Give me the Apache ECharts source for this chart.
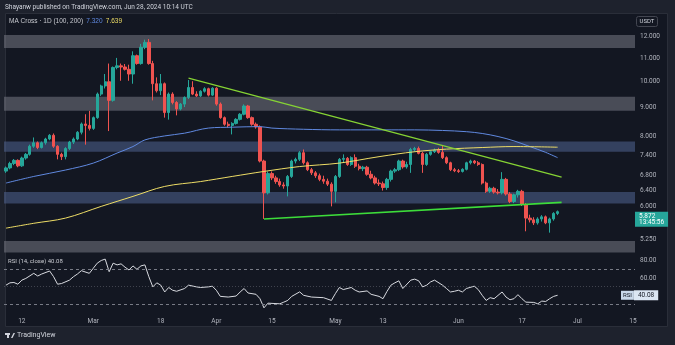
<!DOCTYPE html>
<html><head><meta charset="utf-8">
<script src="https://cdn.jsdelivr.net/npm/echarts@6/dist/echarts.min.js"></script>
<style>html,body{margin:0;padding:0;background:#1e222d;}#c{width:675px;height:345px;}</style>
</head><body><div id="c"></div>
<script>
// ---- categories (daily, DOT/USDT 1D) ----
const firstDay = '2024-02-08';
const dayCount = 159; // Feb 8 .. Jul 15 (axis span)
const tickDates = ['2024-02-12','2024-03-01','2024-03-18','2024-04-01','2024-04-15','2024-05-01','2024-05-13','2024-06-01','2024-06-17','2024-07-01','2024-07-15'];
const tickLabels = ['12','Mar','18','Apr','15','May','13','Jun','17','Jul','15'];

// ---- candles ----
const candleOpen = [6.93,7.02,7.15,7.24,7.08,7.31,7.42,7.67,7.78,7.63,
 7.78,7.90,8.02,7.67,7.42,7.35,7.60,7.80,7.90,8.12,
 8.40,8.35,8.25,8.62,9.49,9.81,9.98,9.25,10.58,10.65,
 10.60,10.50,10.30,11.10,10.75,11.49,11.72,10.75,9.90,9.62,
 9.90,8.80,9.49,9.17,8.93,9.11,9.36,9.75,9.49,9.42,
 9.60,9.70,9.45,9.72,9.11,8.62,8.39,8.35,8.42,8.56,
 8.74,9.04,8.62,8.39,8.30,7.22,6.34,6.86,6.74,6.64,
 6.55,6.52,6.78,7.22,7.27,7.47,7.17,6.97,6.88,6.80,
 6.70,6.65,6.57,6.38,6.78,7.27,7.30,7.12,7.32,7.07,
 7.00,7.04,6.84,6.74,6.60,6.58,6.48,6.70,6.93,6.97,
 7.22,7.05,7.12,7.57,7.60,7.45,7.12,7.42,7.50,7.55,
 7.48,7.32,7.17,6.97,6.94,6.92,6.98,7.17,7.22,7.17,
 7.12,6.60,6.38,6.46,6.36,6.34,6.70,6.31,6.12,6.29,
 6.38,6.05,5.72,5.68,5.61,5.70,5.75,5.61,5.70,5.83];
const candleClose = [7.02,7.15,7.24,7.08,7.31,7.42,7.67,7.78,7.63,7.78,
 7.90,8.02,7.67,7.42,7.35,7.60,7.80,7.90,8.12,8.40,
 8.35,8.25,8.62,9.49,9.81,9.98,9.25,10.58,10.65,10.60,
 10.50,10.30,11.10,10.75,11.49,11.72,10.75,9.90,9.62,9.90,
 8.80,9.49,9.17,8.93,9.11,9.36,9.75,9.49,9.42,9.60,
 9.70,9.45,9.72,9.11,8.62,8.39,8.35,8.42,8.56,8.74,
 9.04,8.62,8.39,8.30,7.22,6.34,6.86,6.74,6.64,6.55,
 6.52,6.78,7.22,7.27,7.47,7.17,6.97,6.88,6.80,6.70,
 6.65,6.57,6.38,6.78,7.27,7.30,7.12,7.32,7.07,7.00,
 7.04,6.84,6.74,6.60,6.58,6.48,6.70,6.93,6.97,7.22,
 7.05,7.12,7.57,7.60,7.45,7.12,7.42,7.50,7.55,7.48,
 7.32,7.17,6.97,6.94,6.92,6.98,7.17,7.22,7.17,7.12,
 6.60,6.38,6.46,6.36,6.34,6.70,6.31,6.12,6.29,6.38,
 6.05,5.72,5.68,5.61,5.70,5.75,5.61,5.70,5.83,5.872];
const candleLow = [6.88,6.98,7.10,7.04,7.05,7.26,7.38,7.62,7.58,7.60,
 7.72,7.86,7.62,7.27,7.25,7.27,7.55,7.74,7.86,8.05,
 7.72,8.18,8.20,8.58,9.42,9.71,8.16,9.20,10.50,10.02,
 10.45,10.02,9.90,10.70,10.70,11.40,10.70,9.25,9.55,9.45,
 8.62,8.55,9.10,8.70,8.88,9.00,9.30,9.45,9.38,9.38,
 9.55,9.40,9.42,9.05,8.58,8.34,8.28,8.05,8.38,8.52,
 8.70,8.58,8.34,8.24,7.18,5.70,6.30,6.68,6.58,6.50,
 6.45,6.25,6.74,7.15,7.22,7.12,6.93,6.82,6.74,6.65,
 6.58,6.52,6.00,6.10,6.74,7.18,7.08,7.08,7.02,6.95,
 6.93,6.80,6.70,6.56,6.52,6.40,6.42,6.64,6.88,6.93,
 7.00,7.00,6.88,7.50,7.42,6.88,7.08,7.38,7.46,7.44,
 7.28,7.13,6.93,6.90,6.88,6.89,6.95,7.12,7.13,7.08,
 6.56,6.34,6.34,6.32,6.30,6.30,6.27,6.08,6.08,6.22,
 6.01,5.42,5.62,5.56,5.57,5.64,5.58,5.39,5.66,5.79];
const candleHigh = [7.06,7.20,7.28,7.27,7.35,7.46,7.72,7.95,7.82,7.82,
 7.94,8.06,8.08,7.70,7.47,7.64,7.84,7.95,8.16,8.45,
 8.74,8.86,8.66,9.55,9.86,10.30,10.75,10.62,11.00,10.75,
 10.73,10.70,11.30,11.15,11.65,11.85,11.88,10.87,10.16,10.30,
 9.95,9.55,9.56,9.22,9.15,9.40,10.05,10.00,9.60,9.64,
 9.76,9.74,9.76,9.76,9.17,8.66,8.48,8.46,8.60,8.78,
 9.10,9.08,8.66,8.45,8.35,7.26,6.92,6.92,6.80,6.72,
 6.62,6.82,7.26,7.32,7.52,7.57,7.21,7.02,6.93,6.86,
 6.80,6.72,6.62,6.82,7.31,7.42,7.34,7.36,7.42,7.14,
 7.08,7.08,6.94,6.80,6.70,6.64,6.74,6.97,7.02,7.26,
 7.26,7.20,7.62,7.65,7.66,7.50,7.46,7.55,7.60,7.62,
 7.70,7.36,7.20,7.02,6.99,7.01,7.20,7.26,7.25,7.22,
 7.15,6.64,6.50,6.50,6.44,6.90,6.74,6.36,6.32,6.42,
 6.42,6.08,5.80,5.74,5.74,5.79,5.78,5.73,5.86,5.90];

// ---- moving averages (read at sample days) ----
const ma100Idx = [0,7,15,22,28,32,35,40,45,51,57,64,67,75,84,95,103,110,116,120,124,128,132,136,139];
const ma100Val = [6.60,6.78,6.96,7.16,7.46,7.66,7.87,8.00,8.09,8.26,8.29,8.31,8.26,8.22,8.20,8.20,8.20,8.18,8.14,8.08,7.98,7.84,7.66,7.48,7.32];
const ma200Idx = [0,7,15,24,32,40,49,57,65,74,84,94,103,111,120,128,139];
const ma200Val = [5.49,5.60,5.72,6.00,6.25,6.51,6.64,6.78,6.92,7.06,7.16,7.35,7.50,7.58,7.63,7.66,7.64];

// ---- trend lines ----
const resistIdx = [46,140];  const resistVal = [10.13,6.76];
const supportIdx = [65,140]; const supportVal = [5.70,6.10];

// ---- zones (price ranges) ----
const zoneLow  = [11.46, 8.87, 7.50, 6.07, 4.97];
const zoneHigh = [12.08, 9.39, 7.82, 6.36, 5.21];
const zoneKind = ['grey','grey','blue','blue','grey'];

// ---- price scale ticks ----
const priceTicks = [12, 11, 10, 9, 8, 7.4, 6.8, 6.4, 6.0, 5.6, 5.25];
const lastPrice = 5.872;
const countdown = '13:45:56';
const ma100Last = '7.320', ma200Last = '7.639';

// ---- RSI ----
const rsiIdx = [0,1,2,3,4,5,7,8,9,11,12,13,14,16,17,18,19,21,22,23,24,25,26,27,28,29,30,31,32,33,34,35,36,37,38,39,40,41,42,43,45,46,48,49,51,52,53,54,56,58,59,60,61,63,64,65,66,69,70,71,72,74,75,77,80,82,83,84,85,87,88,89,91,92,94,95,96,97,98,99,100,102,103,104,105,106,107,108,110,111,112,113,114,115,116,118,119,120,121,122,123,125,126,127,128,129,130,131,133,134,135,136,137,138,139];
const rsiVal = [51.8,54.5,54.9,52.9,57.6,59.6,65.5,62.4,64.7,68.2,61.6,52.9,53.7,57.6,61.6,64.7,68.6,65.5,71.4,77.3,80.4,82.0,67.4,77.3,75.3,76.5,72.6,69.4,74.1,70.2,74.1,75.3,61.6,49.8,54.5,51.8,43.9,49.1,45.9,44.7,47.9,51.8,49.8,49.1,49.8,50.6,45.9,38.8,38.0,39.2,43.9,47.9,42.7,41.2,36.1,25.5,30.9,30.2,32.1,34.1,38.8,44.0,40.0,38.0,37.3,34.1,42.0,49.1,46.7,49.1,45.9,43.9,45.1,41.2,38.8,36.1,44.5,51.8,54.5,56.8,47.9,57.6,58.8,56.8,49.8,51.8,55.6,57.6,51.8,47.9,43.9,44.7,45.9,43.9,47.9,50.6,46.7,40.0,34.1,37.3,36.1,43.9,38.0,34.9,36.1,40.8,36.1,32.1,31.8,30.2,33.3,32.9,36.1,38.8,40.08];
const rsiLevels = [70, 50, 30];
const rsiTicks = [80, 60];
const rsiLast = '40.08';

// ================= build =================
const categories = [];
const t0 = Date.parse(firstDay + 'T00:00:00Z');
for (let i = 0; i < dayCount; i++) categories.push(new Date(t0 + i * 86400000).toISOString().slice(0, 10));
const candles = candleOpen.map((o, i) => [o, candleClose[i], candleLow[i], candleHigh[i]]);
const pairs = (ix, v) => ix.map((x, i) => [x, v[i]]);
const FONT = 'Roboto';
const zoneColor = { grey: 'rgba(118,121,132,0.55)', blue: 'rgba(80,100,146,0.55)' };
const HIDDEN_LINE = { color: 'rgba(0,0,0,0)', width: 0 };

const chart = echarts.init(document.getElementById('c'), null, { renderer: 'canvas' });
const option = {
  animation: false,
  backgroundColor: '#1e222d',
  textStyle: { fontFamily: FONT },
  grid: [
    { left: 4, top: 14, width: 631, height: 241 },
    { left: 4, top: 256, width: 631, height: 54 }
  ],
  xAxis: [
    { type: 'category', gridIndex: 0, data: categories, boundaryGap: true,
      axisLine: { show: false }, axisTick: { show: false }, axisLabel: { show: false }, splitLine: { show: false } },
    { type: 'category', gridIndex: 1, data: categories, boundaryGap: true,
      axisLine: { show: false }, axisTick: { show: false }, splitLine: { show: false },
      axisLabel: { color: '#b2b5be', fontSize: 6.5, margin: 8, fontFamily: FONT,
        interval: (i, v) => tickDates.indexOf(v) >= 0,
        formatter: v => tickLabels[tickDates.indexOf(v)] } }
  ],
  yAxis: [
    { type: 'log', logBase: 10, gridIndex: 0, min: 4.92, max: 13.16,
      axisLine: { show: false }, axisTick: { show: false }, axisLabel: { show: false }, splitLine: { show: false } },
    { type: 'value', gridIndex: 1, min: 23, max: 85.6,
      axisLine: { show: false }, axisTick: { show: false }, axisLabel: { show: false }, splitLine: { show: false } }
  ],
  series: [
    { type: 'line', name: 'zones', xAxisIndex: 0, yAxisIndex: 0, data: [[0, 7]], symbol: 'none', silent: true, z: 1,
      lineStyle: HIDDEN_LINE,
      markArea: { silent: true, label: { show: false },
        data: zoneLow.map((lo, i) => [{ yAxis: lo, itemStyle: { color: zoneColor[zoneKind[i]] } }, { yAxis: zoneHigh[i] }]) } },
    { type: 'candlestick', name: 'DOTUSDT', xAxisIndex: 0, yAxisIndex: 0, data: candles, z: 3, barWidth: '72%',
      itemStyle: { color: '#26a69a', color0: '#ef5350', borderColor: '#26a69a', borderColor0: '#ef5350', borderWidth: 1 } },
    { type: 'line', name: 'MA100', xAxisIndex: 0, yAxisIndex: 0, data: pairs(ma100Idx, ma100Val), smooth: 0.35,
      symbol: 'none', z: 4, lineStyle: { color: '#6089e0', width: 1 } },
    { type: 'line', name: 'MA200', xAxisIndex: 0, yAxisIndex: 0, data: pairs(ma200Idx, ma200Val), smooth: 0.35,
      symbol: 'none', z: 4, lineStyle: { color: '#eedd66', width: 1 } },
    { type: 'line', name: 'resistance', xAxisIndex: 0, yAxisIndex: 0, data: pairs(resistIdx, resistVal),
      symbol: 'none', z: 5, lineStyle: { color: '#86d434', width: 1.2 } },
    { type: 'line', name: 'support', xAxisIndex: 0, yAxisIndex: 0, data: pairs(supportIdx, supportVal),
      symbol: 'none', z: 5, lineStyle: { color: '#3ddc3a', width: 1.6 } },
    { type: 'line', name: 'priceScale', xAxisIndex: 0, yAxisIndex: 0, data: [[0, 7]], symbol: 'none', silent: true, z: 6,
      lineStyle: HIDDEN_LINE, clip: false,
      markLine: { silent: true, symbol: ['none', 'none'], lineStyle: HIDDEN_LINE,
        label: { show: true, position: 'end', distance: 5, color: '#b2b5be', fontSize: 6.5, fontFamily: FONT, opacity: 1,
          formatter: p => Number(p.value).toFixed(3) },
        data: priceTicks.map(v => ({ yAxis: v })) } },
    { type: 'line', name: 'lastPrice', xAxisIndex: 0, yAxisIndex: 0, data: [[0, 7]], symbol: 'none', silent: true, z: 10,
      lineStyle: HIDDEN_LINE, clip: false,
      markLine: { silent: true, symbol: ['none', 'none'], lineStyle: HIDDEN_LINE,
        label: { show: true, position: 'end', distance: 0, color: '#ffffff', fontSize: 6.5, fontFamily: FONT, opacity: 1,
          backgroundColor: '#26a69a', padding: [1, 4, 1, 4], lineHeight: 6.5, align: 'left', verticalAlign: 'top',
          formatter: () => lastPrice.toFixed(3) + '\n' + countdown },
        data: [{ yAxis: lastPrice }] } },
    { type: 'line', name: 'RSI', xAxisIndex: 1, yAxisIndex: 1, data: pairs(rsiIdx, rsiVal), symbol: 'none', z: 4,
      lineStyle: { color: '#d8dae0', width: 1 },
      markLine: { silent: true, symbol: ['none', 'none'], label: { show: false },
        data: rsiLevels.map(v => ({ yAxis: v, lineStyle: { color: v === 50 ? 'rgba(120,123,134,0.45)' : '#787b86',
          type: v === 50 ? [1, 2] : [3, 3], width: 1 } })) } },
    { type: 'line', name: 'rsiScale', xAxisIndex: 1, yAxisIndex: 1, data: [[0, 50]], symbol: 'none', silent: true, z: 6,
      lineStyle: HIDDEN_LINE, clip: false,
      markLine: { silent: true, symbol: ['none', 'none'], lineStyle: HIDDEN_LINE,
        label: { show: true, position: 'end', distance: 5, color: '#b2b5be', fontSize: 6.5, fontFamily: FONT, opacity: 1,
          formatter: p => Number(p.value).toFixed(2) },
        data: rsiTicks.map(v => ({ yAxis: v })) } },
    { type: 'line', name: 'rsiLast', xAxisIndex: 1, yAxisIndex: 1, data: [[0, 50]], symbol: 'none', silent: true, z: 10,
      lineStyle: HIDDEN_LINE, clip: false,
      markLine: { silent: true, symbol: ['none', 'none'], lineStyle: HIDDEN_LINE,
        label: { show: true, position: 'end', distance: -14, fontFamily: FONT, opacity: 1,
          formatter: () => '{n|RSI}{v|' + rsiLast + '}',
          rich: { n: { backgroundColor: '#c9d8ea', color: '#131722', fontSize: 6, padding: [2, 2, 1, 2] },
                  v: { backgroundColor: '#dbe6f3', color: '#131722', fontSize: 6.5, padding: [2, 4, 1, 4] } } },
        data: [{ yAxis: Number(rsiLast) }] } }
  ],
  graphic: { elements: [
    { type: 'rect', z: -5, shape: { x: 5.5, y: 13.5, width: 662, height: 313 }, style: { fill: '#131722', stroke: '#2a2e39', lineWidth: 1 } },
    { type: 'text', z: 50, x: 5, y: 4, style: { text: 'Shayanw published on TradingView.com, Jun 28, 2024 10:14 UTC', fill: '#d1d4dc', fontSize: 6.5, fontFamily: FONT } },
    { type: 'text', z: 50, x: 9, y: 18, style: { text: '{a|MA Cross · 1D (100, 200)}  {b|' + ma100Last + '}  {c|' + ma200Last + '}', fontSize: 6.5, fontFamily: FONT,
      rich: { a: { fill: '#c8cad0', fontSize: 6.5 }, b: { fill: '#6089e0', fontSize: 6.5 }, c: { fill: '#eedd66', fontSize: 6.5 } } } },
    { type: 'rect', z: 50, shape: { x: 636.5, y: 16.5, width: 21, height: 10, r: 2 }, style: { fill: '#131722', stroke: '#434651', lineWidth: 1 } },
    { type: 'text', z: 51, x: 647, y: 21.5, style: { text: 'USDT', fill: '#d1d4dc', fontSize: 6, fontFamily: FONT, align: 'center', verticalAlign: 'middle' } },
    { type: 'text', z: 50, x: 8, y: 258, style: { text: 'RSI (14, close) ' + rsiLast, fill: '#c8cad0', fontSize: 6, fontFamily: FONT } },
    { type: 'rect', z: 50, shape: { x: 5, y: 333, width: 5, height: 2 }, style: { fill: '#d1d4dc' } },
    { type: 'rect', z: 50, shape: { x: 7, y: 333, width: 2, height: 5 }, style: { fill: '#d1d4dc' } },
    { type: 'polygon', z: 50, shape: { points: [[11, 338], [13.5, 333], [15, 333], [12.5, 338]] }, style: { fill: '#d1d4dc' } },
    { type: 'text', z: 50, x: 17, y: 332, style: { text: 'TradingView', fill: '#d1d4dc', fontSize: 7, fontFamily: FONT } }
  ] }
};
chart.setOption(option);
</script>
</body></html>
